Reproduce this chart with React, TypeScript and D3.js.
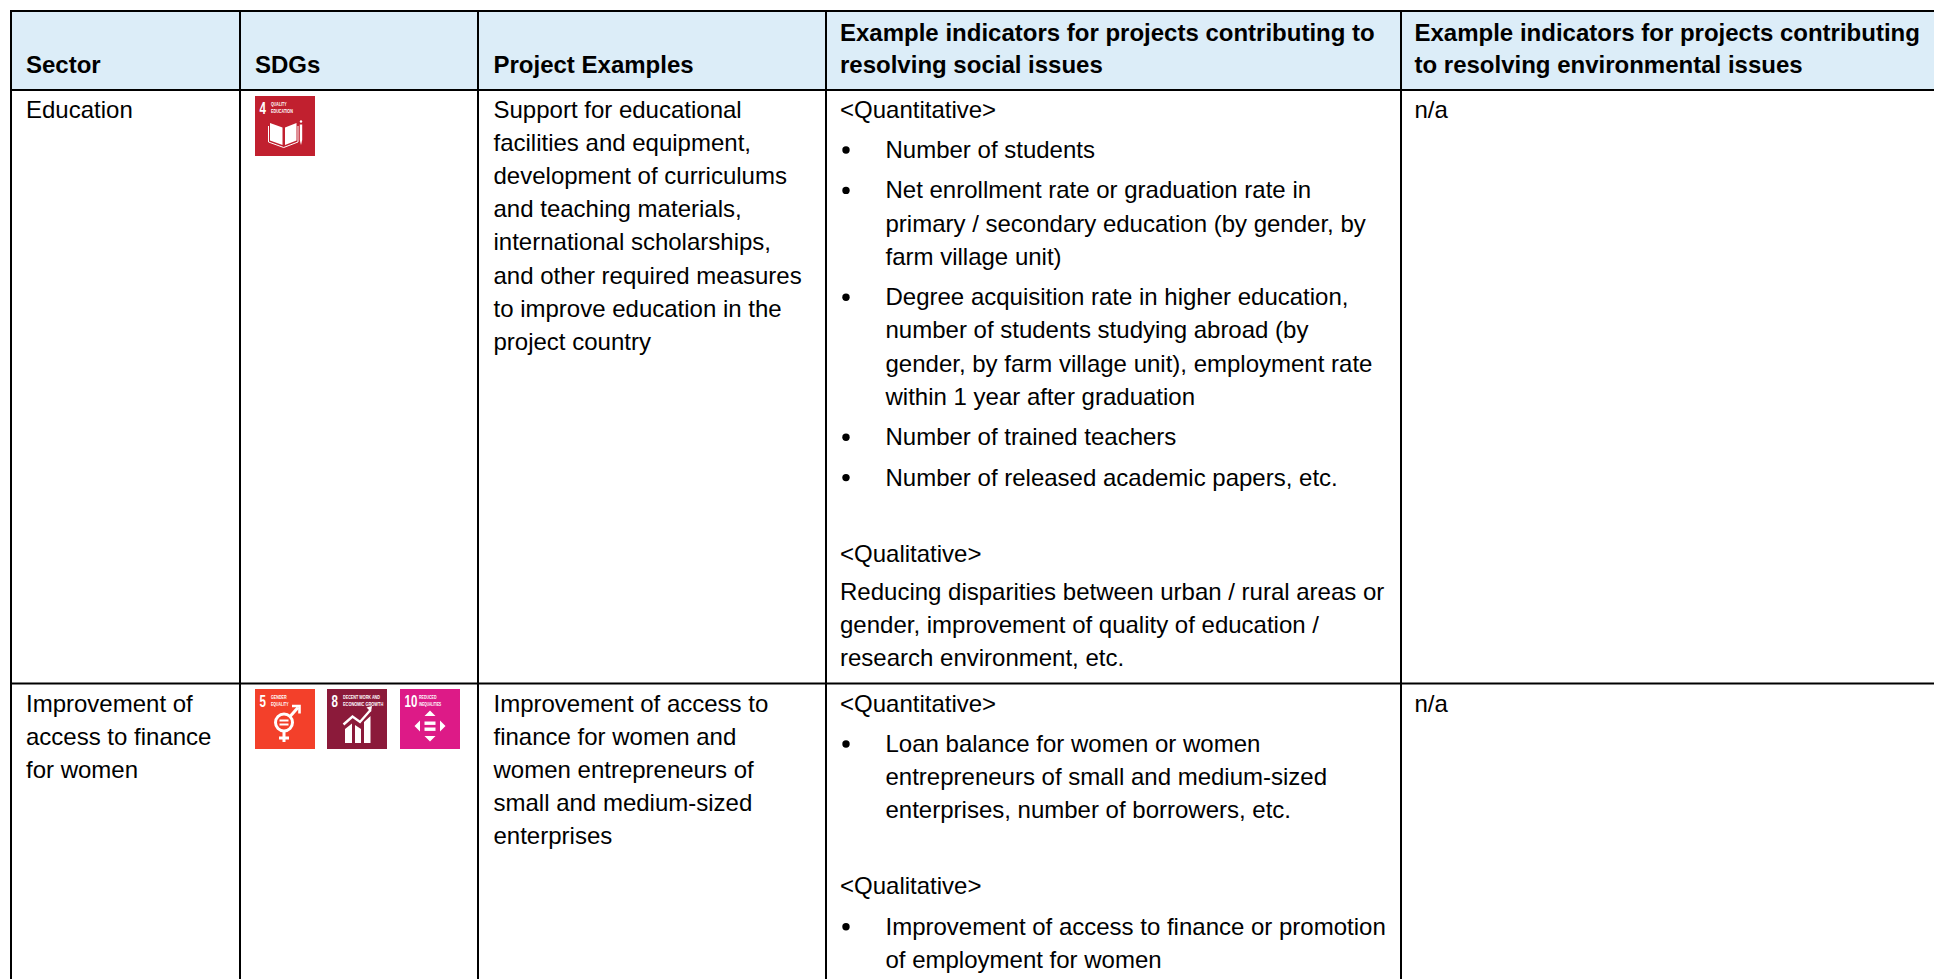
import React from "react";
import * as d3 from "d3";

type Para = { kind: "plain" | "bullet" | "gap"; lines: string[] };

const columnEdges = [11, 240, 478, 826, 1401];
const headerTexts = [
  ["Sector"],
  ["SDGs"],
  ["Project Examples"],
  ["Example indicators for projects contributing to", "resolving social issues"],
  ["Example indicators for projects contributing", "to resolving environmental issues"],
];
const sectors = [["Education"], ["Improvement of", "access to finance", "for women"]];
const rowGoals = [[4], [5, 8, 10]];
const projectExamples = [
  [
    "Support for educational",
    "facilities and equipment,",
    "development of curriculums",
    "and teaching materials,",
    "international scholarships,",
    "and other required measures",
    "to improve education in the",
    "project country",
  ],
  [
    "Improvement of access to",
    "finance for women and",
    "women entrepreneurs of",
    "small and medium-sized",
    "enterprises",
  ],
];
const socialIndicators: Para[][] = [
  [
    { kind: "plain", lines: ["<Quantitative>"] },
    { kind: "bullet", lines: ["Number of students"] },
    {
      kind: "bullet",
      lines: [
        "Net enrollment rate or graduation rate in",
        "primary / secondary education (by gender, by",
        "farm village unit)",
      ],
    },
    {
      kind: "bullet",
      lines: [
        "Degree acquisition rate in higher education,",
        "number of students studying abroad (by",
        "gender, by farm village unit), employment rate",
        "within 1 year after graduation",
      ],
    },
    { kind: "bullet", lines: ["Number of trained teachers"] },
    { kind: "bullet", lines: ["Number of released academic papers, etc."] },
    { kind: "gap", lines: [] },
    { kind: "plain", lines: ["<Qualitative>"] },
    {
      kind: "plain",
      lines: [
        "Reducing disparities between urban / rural areas or",
        "gender, improvement of quality of education /",
        "research environment, etc.",
      ],
    },
  ],
  [
    { kind: "plain", lines: ["<Quantitative>"] },
    {
      kind: "bullet",
      lines: [
        "Loan balance for women or women",
        "entrepreneurs of small and medium-sized",
        "enterprises, number of borrowers, etc.",
      ],
    },
    { kind: "gap", lines: [] },
    { kind: "plain", lines: ["<Qualitative>"] },
    {
      kind: "bullet",
      lines: ["Improvement of access to finance or promotion", "of employment for women"],
    },
  ],
];
const environmentalIndicators = ["n/a", "n/a"];

const goalTitles: Record<number, string[]> = {
  4: ["QUALITY", "EDUCATION"],
  5: ["GENDER", "EQUALITY"],
  8: ["DECENT WORK AND", "ECONOMIC GROWTH"],
  10: ["REDUCED", "INEQUALITIES"],
};
const goalColors: Record<number, string> = { 4: "#C1202F", 5: "#F3402A", 8: "#8B1A3A", 10: "#DD1A87" };

const FONT = "'Liberation Sans', Arial, sans-serif";
const W = 1934;
const H = 979;
const SIZE = 24;
const LINE = 33.2;
const headerTop = 11;
const headerBottom = 90;
const rowRule = 683.5;
const rowBaselines = [117.6, 711.6];

const border = d3.line<[number, number]>();
const xPad = d3.scaleOrdinal<number, number>().domain([0, 1, 2, 3, 4]).range([26, 255, 493.5, 840, 1414.5]);
const lineY = d3.scaleLinear().domain([0, 1]).range([0, LINE]);

function layout(paras: Para[]) {
  const out: { text: string; y: number; x: number; dot: boolean }[] = [];
  let y = 0;
  paras.forEach((p, i) => {
    if (p.kind === "gap") {
      y += LINE + 9.5;
      return;
    }
    if (i > 0 && p.kind === "bullet") y += 7.2;
    if (i > 0 && p.kind === "plain" && paras[i - 1].kind === "plain") y += 5;
    p.lines.forEach((t, j) => {
      out.push({ text: t, y, x: p.kind === "bullet" ? 885.5 : 840, dot: p.kind === "bullet" && j === 0 });
      y += lineY(1);
    });
  });
  return out;
}

function Glyph({ goal }: { goal: number }) {
  const w = "#fff";
  if (goal === 4)
    return (
      <g fill={w}>
        <path d="M15 27 L27.5 31.5 V49 L15 44.5 Z M30 31.5 L41.5 27 V44.5 L30 49 Z" />
        <path d="M13.5 30 V46 L28.7 51.5 L43 46 V30" fill="none" stroke={w} strokeWidth="1" />
        <path d="M44.8 28.5 H47.2 V44 L46 49 L44.8 44 Z" />
        <circle cx="46" cy="25.5" r="1.2" />
      </g>
    );
  if (goal === 5)
    return (
      <g fill="none" stroke={w}>
        <circle cx="29" cy="33.5" r="8.5" strokeWidth="3" />
        <path d="M29 42 V53 M24 49 H34" strokeWidth="3" />
        <path d="M35 27.5 L43 18.5" strokeWidth="3" />
        <path d="M37 17 H44.5 V24.5" strokeWidth="2.6" />
        <path d="M24.5 31.5 H33.5 M24.5 35.5 H33.5" strokeWidth="2" />
      </g>
    );
  if (goal === 8)
    return (
      <g fill={w}>
        <path d="M18 54 V40 L25 34.5 V54 Z M28 54 V36 L34 40 V54 Z M37 54 V33 L43.5 27 V54 Z" />
        <path d="M16.5 35.5 L25.5 27.5 L33 33 L43.5 21" fill="none" stroke={w} strokeWidth="2.4" />
        <path d="M39.5 18.5 L45 17 L44 23 Z" />
      </g>
    );
  return (
    <g fill={w}>
      <path d="M30 21.5 L35.5 27 H24.5 Z M30 52.5 L24.5 47 H35.5 Z" />
      <path d="M14.5 37 L20 31.5 V42.5 Z M45.5 37 L40 31.5 V42.5 Z" />
      <rect x="24.5" y="32.5" width="11" height="3.4" />
      <rect x="24.5" y="38.5" width="11" height="3.4" />
    </g>
  );
}

function GoalIcon({ goal, x, y }: { goal: number; x: number; y: number }) {
  const num = String(goal);
  const titleLeft = goal === 10 ? 19 : 16;
  const titleWidths: Record<number, number[]> = { 4: [17, 23], 5: [15, 19], 8: [38, 40], 10: [17, 26] };
  return (
    <g transform={`translate(${x},${y})`}>
      <rect width={60} height={60} fill={goalColors[goal]} />
      <text
        transform="translate(4.5,18) scale(0.68,1)"
        fill="#fff"
        fontFamily={FONT}
        fontWeight="700"
        fontSize={17}
      >
        {num}
      </text>
      {goalTitles[goal].map((t, i) => (
        <text
          key={t}
          transform={`translate(${titleLeft},${9.6 + i * 7.2}) scale(${titleWidths[goal][i] / (t.length * 4.1)},1)`}
          fill="#fff"
          fontFamily={FONT}
          fontWeight="700"
          fontSize={6}
        >
          {t}
        </text>
      ))}
      <Glyph goal={goal} />
    </g>
  );
}

export default function App() {
  const vRules = columnEdges.map((x) => border([[x, headerTop - 1], [x, H]]));
  const hRules = [headerTop, headerBottom, rowRule].map((y) => border([[columnEdges[0], y], [W, y]]));
  const goalX = d3.scaleOrdinal<number, number>().domain([0, 1, 2]).range([255, 327, 400]);
  const goalY = [96, 689];
  const text = { fontFamily: FONT, fontSize: SIZE, fill: "#000" };
  return (
    <svg
      width={W}
      height={H}
      viewBox={`0 0 ${W} ${H}`}
      style={{ position: "fixed", left: 0, top: 0, background: "#fff" }}
    >
      <rect x={columnEdges[0]} y={headerTop} width={W - columnEdges[0]} height={headerBottom - headerTop} fill="#DCEDF8" />
      {headerTexts.map((lines, c) =>
        lines.map((t, i) => (
          <text key={t} x={xPad(c)} y={lines.length === 1 ? 73 : 41 + i * 32.4} {...text} fontWeight="700">
            {t}
          </text>
        ))
      )}
      {rowBaselines.map((base, r) => (
        <g key={r}>
          {sectors[r].map((t, i) => (
            <text key={t} x={xPad(0)} y={base + lineY(i)} {...text}>
              {t}
            </text>
          ))}
          {rowGoals[r].map((g, i) => (
            <GoalIcon key={g} goal={g} x={goalX(i)} y={goalY[r]} />
          ))}
          {projectExamples[r].map((t, i) => (
            <text key={t} x={xPad(2)} y={base + lineY(i)} {...text}>
              {t}
            </text>
          ))}
          {layout(socialIndicators[r]).map((l) => (
            <g key={l.text}>
              {l.dot && <circle cx={846} cy={base + l.y - 8} r={3.7} fill="#000" />}
              <text x={l.x} y={base + l.y} {...text}>
                {l.text}
              </text>
            </g>
          ))}
          <text x={xPad(4)} y={base} {...text}>
            {environmentalIndicators[r]}
          </text>
        </g>
      ))}
      {hRules.map((d, i) => (
        <path key={`h${i}`} d={d ?? ""} stroke="#000" strokeWidth={2} fill="none" />
      ))}
      {vRules.map((d, i) => (
        <path key={`v${i}`} d={d ?? ""} stroke="#000" strokeWidth={2} fill="none" />
      ))}
    </svg>
  );
}
